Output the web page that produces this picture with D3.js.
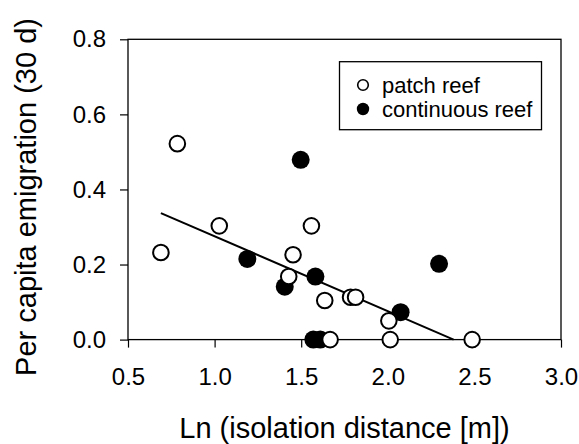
<!DOCTYPE html>
<html>
<head>
<meta charset="utf-8">
<script src="https://cdn.jsdelivr.net/npm/d3@7/dist/d3.min.js"></script>
<style>
  html, body { margin: 0; padding: 0; background: #fff; }
  svg { display: block; font-family: "Liberation Sans", Arial, sans-serif; }
</style>
</head>
<body>
<svg id="chart" width="579" height="444"></svg>
<script>
// ---- data ----
const patchX = [0.69, 0.785, 1.027, 1.453, 1.428, 1.559, 1.636, 1.785, 1.814, 2.006, 1.667, 2.014, 2.487];
const patchY = [0.232, 0.522, 0.303, 0.226, 0.168, 0.303, 0.104, 0.113, 0.113, 0.050, 0.0, 0.0, 0.0];
const contX = [1.189, 1.497, 1.405, 1.582, 2.074, 2.296, 1.57, 1.61];
const contY = [0.215, 0.479, 0.141, 0.168, 0.073, 0.202, 0.0, 0.0];
const fitX = [0.69, 2.38];
const fitY = [0.337, 0.0];
const xTicks = [0.5, 1.0, 1.5, 2.0, 2.5, 3.0];
const yTicks = [0.0, 0.2, 0.4, 0.6, 0.8];
const legendLabels = ["patch reef", "continuous reef"];
const xTitle = "Ln (isolation distance [m])";
const yTitle = "Per capita emigration (30 d)";

// ---- layout ----
const svg = d3.select("#chart");
const mLeft = 128, mRight = 561, mTop = 39.3, mBottom = 339.6;
const x = d3.scaleLinear().domain([0.5, 3.0]).range([mLeft, mRight]);
const y = d3.scaleLinear().domain([0, 0.8]).range([mBottom, mTop]);

// axes
const xAxis = svg.append("g")
  .attr("transform", `translate(0,${mBottom})`)
  .call(d3.axisBottom(x).tickValues(xTicks).tickFormat(d3.format(".1f")).tickSize(8).tickPadding(20));
const yAxis = svg.append("g")
  .attr("transform", `translate(${mLeft},0)`)
  .call(d3.axisLeft(y).tickValues(yTicks).tickFormat(d3.format(".1f")).tickSize(8).tickPadding(14));
[xAxis, yAxis].forEach(g => {
  g.select(".domain").remove();
  g.selectAll(".tick line").attr("stroke", "#000").attr("stroke-width", 1.2);
  g.selectAll(".tick text").attr("fill", "#000").style("font-size", "24px")
    .style("font-family", '"Liberation Sans", Arial, sans-serif');
});

// frame
svg.append("rect")
  .attr("x", mLeft).attr("y", mTop)
  .attr("width", mRight - mLeft).attr("height", mBottom - mTop)
  .attr("fill", "none").attr("stroke", "#000").attr("stroke-width", 1.3);

// regression line
svg.append("line")
  .attr("x1", x(fitX[0])).attr("y1", y(fitY[0]))
  .attr("x2", x(fitX[1])).attr("y2", y(fitY[1]))
  .attr("stroke", "#000").attr("stroke-width", 2);

// continuous reef (filled) drawn first
svg.append("g").selectAll("circle")
  .data(d3.zip(contX, contY))
  .join("circle")
  .attr("cx", d => x(d[0])).attr("cy", d => y(d[1]))
  .attr("r", 9).attr("fill", "#000");

// patch reef (open)
svg.append("g").selectAll("circle")
  .data(d3.zip(patchX, patchY))
  .join("circle")
  .attr("cx", d => x(d[0])).attr("cy", d => y(d[1]))
  .attr("r", 7.8).attr("fill", "#fff").attr("stroke", "#000").attr("stroke-width", 2);

// legend
const lg = svg.append("g");
lg.append("rect")
  .attr("x", 339.5).attr("y", 61.7).attr("width", 202).attr("height", 68)
  .attr("fill", "#fff").attr("stroke", "#000").attr("stroke-width", 1.3);
legendLabels.forEach((lab, i) => {
  const cy = 85 + i * 24;
  if (i === 0) {
    lg.append("circle").attr("cx", 363).attr("cy", cy).attr("r", 5.3)
      .attr("fill", "#fff").attr("stroke", "#000").attr("stroke-width", 1.6);
  } else {
    lg.append("circle").attr("cx", 363).attr("cy", cy).attr("r", 6.2).attr("fill", "#000");
  }
  lg.append("text").attr("x", 382).attr("y", cy + 7.5)
    .style("font-size", "22px").attr("fill", "#000").text(lab);
});

// axis titles
svg.append("text")
  .attr("x", (mLeft + mRight) / 2).attr("y", 438)
  .attr("text-anchor", "middle").style("font-size", "29px").attr("fill", "#000")
  .text(xTitle);
svg.append("text")
  .attr("transform", `translate(36,197) rotate(-90)`)
  .attr("text-anchor", "middle").style("font-size", "29px").attr("fill", "#000")
  .text(yTitle);
</script>
</body>
</html>
